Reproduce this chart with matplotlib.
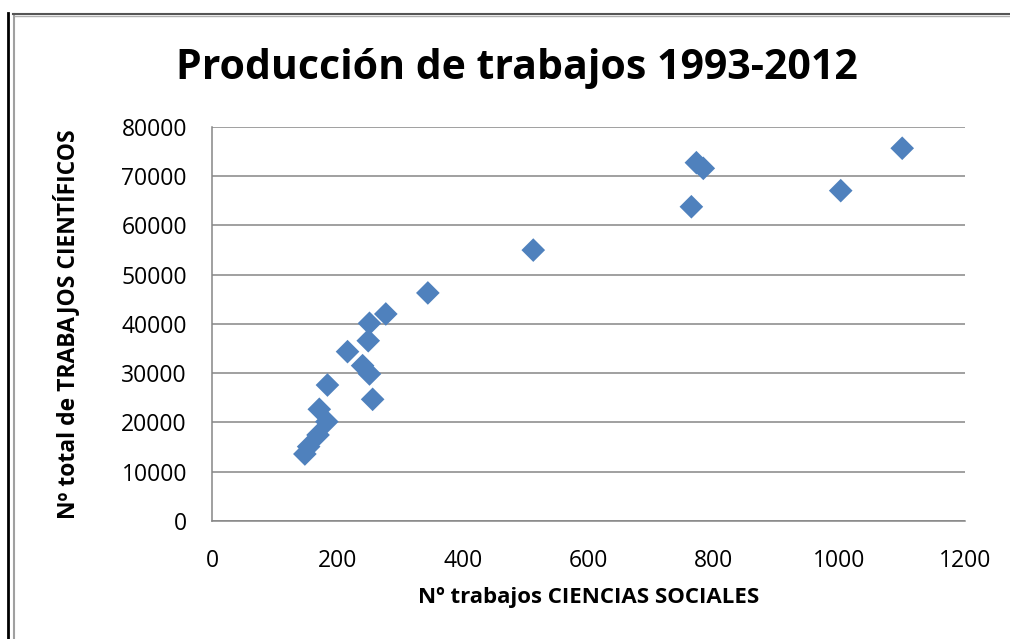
"""
Gráfico de dispersión: producción de trabajos 1993-2012
Ciencias sociales frente al total de trabajos científicos
"""

import matplotlib
matplotlib.use("Agg")
import matplotlib.pyplot as plt
from matplotlib.lines import Line2D

# valores (un punto por año, 1993-2012)
ciencias_sociales = [148, 154, 169, 183, 171, 184, 216, 240, 251, 256,
                     249, 251, 277, 344, 512, 764, 772, 783, 1002, 1100]
total_cientificos = [13600, 15100, 17460, 20160, 22680, 27600, 34380, 31540, 29850, 24700,
                     36600, 40140, 42030, 46300, 55000, 63800, 72750, 71600, 67070, 75680]

x_ticks = [0, 200, 400, 600, 800, 1000, 1200]
y_ticks = [0, 10000, 20000, 30000, 40000, 50000, 60000, 70000, 80000]

TITULO = "Producción de trabajos 1993-2012"
X_LABEL = "Nº trabajos CIENCIAS SOCIALES"
Y_LABEL = "Nº total de TRABAJOS CIENTÍFICOS"

AZUL = "#4F81BD"
GRIS = "#868686"


def main():
    plt.rcParams["font.family"] = ["Open Sans", "DejaVu Sans"]

    fig = plt.figure(figsize=(10.1, 6.39), dpi=100)
    ax = fig.add_axes([0.2099, 0.1847, 0.7455, 0.6166])

    ax.scatter(ciencias_sociales, total_cientificos, marker="D", s=145,
               color=AZUL, edgecolors="none", zorder=3)

    ax.set_xlim(0, 1200)
    ax.set_ylim(0, 80000)
    ax.set_xticks(x_ticks)
    ax.set_yticks(y_ticks)
    ax.tick_params(axis="both", length=0, labelsize=16.5, colors="black")
    ax.tick_params(axis="x", pad=20)
    ax.tick_params(axis="y", pad=18)

    ax.grid(axis="y", color=GRIS, linewidth=1.1, zorder=0)
    ax.set_axisbelow(True)
    for side in ["top", "right"]:
        ax.spines[side].set_visible(False)
    for side in ["left", "bottom"]:
        ax.spines[side].set_color(GRIS)
        ax.spines[side].set_linewidth(1.1)

    ax.set_xlabel(X_LABEL, fontsize=16, fontweight="bold", labelpad=10)
    ax.set_ylabel(Y_LABEL, fontsize=16.5, fontweight="bold", labelpad=30)

    fig.text(0.512, 0.893, TITULO, ha="center", va="center",
             fontsize=29.5, fontweight="bold")

    # marco del área del gráfico
    fig.add_artist(Line2D([0.0084, 0.0084], [0, 0.98], color="black", lw=2))
    fig.add_artist(Line2D([0.0134, 0.0134], [0, 0.978], color="#A0A0A0", lw=1.5))
    fig.add_artist(Line2D([0.0125, 1], [0.978, 0.978], color="#555555", lw=1.5))
    fig.add_artist(Line2D([0.0145, 1], [0.975, 0.975], color="#B0B0B0", lw=1))

    fig.savefig("out.png", dpi=100)
    plt.close(fig)


if __name__ == "__main__":
    main()
